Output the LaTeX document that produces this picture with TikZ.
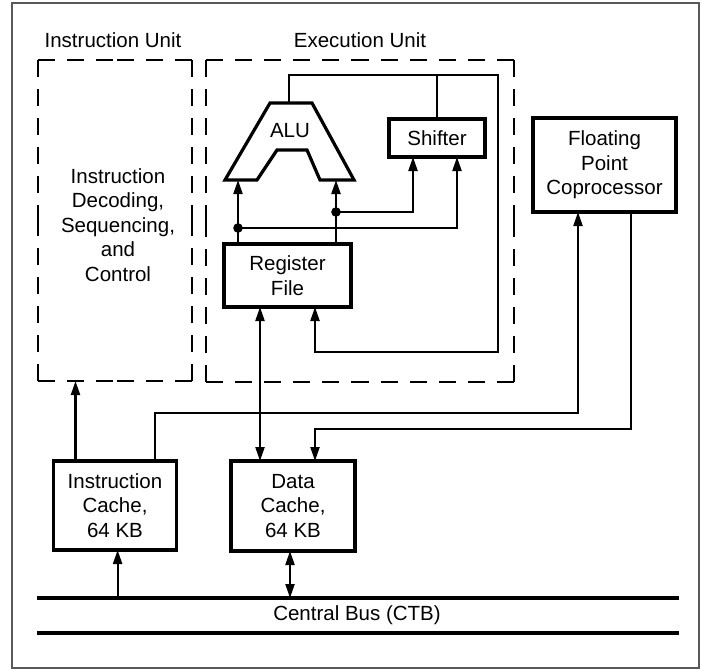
\documentclass[tikz,border=0pt]{standalone}
\usepackage{fontspec}
\setmainfont{Liberation Sans}
\usetikzlibrary{arrows.meta,calc}
\begin{document}
\begin{tikzpicture}[x=1pt,y=-1pt,
  font=\fontsize{20.5}{24.5}\selectfont,
  box/.style={draw, line width=3.8pt, inner sep=0pt, outer sep=0pt, align=center},
  conn/.style={line width=2.2pt},
  arr/.style={conn, -{Triangle[length=14pt,width=9pt]}},
  darr/.style={conn, {Triangle[length=14pt,width=9pt]}-{Triangle[length=14pt,width=9pt]}},
  dsh/.style={line width=2.5pt, dash pattern=on 17pt off 12pt},
  region/.style={inner sep=0pt, outer sep=0pt},
  busline/.style={line width=3.8pt}]
\useasboundingbox (0,0) rectangle (701,669);
% outer frame
\draw[line width=1.5pt, black!65] (12,3) rectangle (699,668);

% unit labels
\node (iulabel) at (113,40) {Instruction Unit};
\node (eulabel) at (360,40) {Execution Unit};

% dashed regions
\node[region, minimum width=154pt, minimum height=321pt] (iu) at (115,220.5) {};
\node[region, minimum width=308pt, minimum height=322pt] (eu) at (360,221) {};
\foreach \r in {iu,eu}{
  \draw[dsh] (\r.north west) -- (\r.north);
  \draw[dsh] (\r.north east) -- (\r.north);
  \draw[dsh] (\r.south west) -- (\r.south);
  \draw[dsh] (\r.south east) -- (\r.south);
  \draw[dsh] (\r.north west) -- (\r.west);
  \draw[dsh] (\r.south west) -- (\r.west);
  \draw[dsh] (\r.north east) -- (\r.east);
  \draw[dsh] (\r.south east) -- (\r.east);
}
\node[align=center] (idsc) at (118,225) {Instruction\\Decoding,\\Sequencing,\\and\\Control};

% ALU
\draw[line width=3.2pt, line join=miter] (225,180) -- (270,103) -- (312,103) -- (354,180) -- (320,180) -- (307,150) -- (277,150) -- (257,180) -- cycle;
\node (alu) at (290,131) {ALU};
\coordinate (alutop) at (289,103);
\coordinate (aluinL) at (238,180);
\coordinate (aluinR) at (336,180);

% boxes
\node[box, minimum width=96pt, minimum height=38pt] (shifter) at (437,138) {Shifter};
\node[box, minimum width=127pt, minimum height=63pt] (regfile) at (287.5,275.5) {Register\\File};
\node[box, minimum width=143pt, minimum height=94pt] (fpu) at (604.5,165) {Floating\\Point\\Coprocessor};
\node[box, minimum width=123pt, minimum height=89pt] (icache) at (115,505.5) {Instruction\\Cache,\\64 KB};
\node[box, minimum width=124pt, minimum height=90pt] (dcache) at (293,506) {Data\\Cache,\\64 KB};

% execution unit connections
\coordinate (tr) at (498,75);
\coordinate (br) at (498,352);
\draw[arr] (alutop) |- (tr) -- (br) -| ($(regfile.south)+(27.5,0)$);
\draw[conn] (shifter.north) -- (shifter.north |- tr);
\draw[arr] (regfile.north -| aluinL) -- (aluinL);
\draw[arr] (regfile.north -| aluinR) -- (aluinR);
\coordinate (dotL) at (238,228);
\coordinate (dotR) at (336,212);
\draw[arr] (dotL) -| ($(shifter.south)+(20,0)$);
\draw[arr] (dotR) -| ($(shifter.south)+(-24,0)$);
\fill (dotL) circle (4.8pt);
\fill (dotR) circle (4.8pt);
\draw[darr] ($(regfile.south)+(-27.5,0)$) -- ($(dcache.north)+(-33,0)$);

% cache connections
\coordinate (ic1) at ($(icache.north)+(-39.5,0)$);
\draw[arr] (ic1) -- (ic1 |- iu.south);
\coordinate (ic2) at ($(icache.north)+(40,0)$);
\coordinate (fp1) at ($(fpu.south)+(-26.5,0)$);
\draw[arr] (ic2) -- ++(0,-48) -| (fp1);
\coordinate (fp2) at ($(fpu.south)+(26.5,0)$);
\draw[arr] (fp2) -- ++(0,217) -| ($(dcache.north)+(22,0)$);

% bus
\coordinate (busA1) at (37,598);
\coordinate (busA2) at (679,598);
\coordinate (busB1) at (37,633);
\coordinate (busB2) at (679,633);
\draw[busline] (busA1) -- (busA2);
\draw[busline] (busB1) -- (busB2);
\node (buslabel) at (357,615) {Central Bus (CTB)};
\coordinate (ic3) at ($(icache.south)+(2.6,0)$);
\draw[arr] (ic3 |- busA1) -- (ic3);
\coordinate (dc3) at ($(dcache.south)+(-3,0)$);
\draw[darr] (dc3) -- (dc3 |- busA1);
\end{tikzpicture}
\end{document}
